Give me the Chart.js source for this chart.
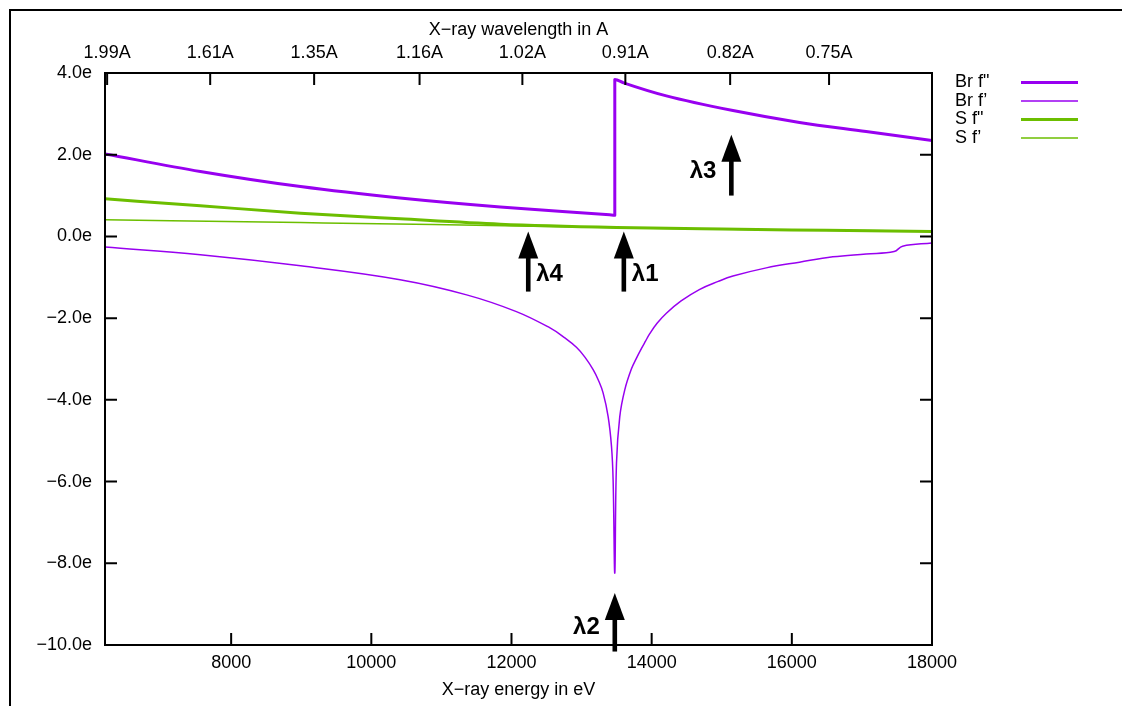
<!DOCTYPE html>
<html>
<head>
<meta charset="utf-8">
<script src="https://cdn.jsdelivr.net/npm/chart.js@4.4.0/dist/chart.umd.min.js"></script>
<style>
  html, body { margin: 0; padding: 0; background: #fff; }
  #wrap { width: 1122px; height: 706px; }
</style>
</head>
<body>
<div id="wrap"><canvas id="chart" width="1122" height="706"></canvas></div>
<script>
// anomalous scattering factors (electrons) vs X-ray energy (eV)
var brFppEnergy = [6200, 7560, 8990, 10410, 11840, 13400, 13474, 13474, 13600, 14210, 15160, 16110, 17060, 18000];
var brFppValue  = [2.02, 1.59, 1.22, 0.94, 0.72, 0.53, 0.52, 3.84, 3.76, 3.44, 3.08, 2.79, 2.57, 2.35];

var brFpEnergy = [6200, 7560, 8990, 10410, 11360, 12070, 12550, 12750, 12930, 13050, 13165, 13240, 13307, 13379, 13427, 13450, 13474,
                  13498, 13545, 13617, 13712, 13780, 13855, 13910, 13973, 14080, 14210, 14420, 14680, 14950, 15160, 15635, 16110, 16585, 17060, 17460, 17580, 18000];
var brFpValue  = [-0.26, -0.45, -0.72, -1.06, -1.43, -1.84, -2.24, -2.47, -2.72, -2.96, -3.26, -3.52, -3.83, -4.41, -5.14, -5.96, -8.24,
                  -5.55, -4.41, -3.75, -3.24, -2.99, -2.74, -2.57, -2.38, -2.12, -1.88, -1.58, -1.30, -1.10, -0.97, -0.77, -0.63, -0.50, -0.43, -0.37, -0.24, -0.16];

var sFppEnergy = [6200, 7560, 8990, 10410, 11840, 13500, 15000, 16500, 18000];
var sFppValue  = [0.92, 0.75, 0.57, 0.43, 0.30, 0.22, 0.18, 0.15, 0.12];

var sFpEnergy = [6200, 8990, 10880, 12500, 14000, 16000, 18000];
var sFpValue  = [0.41, 0.34, 0.29, 0.24, 0.20, 0.16, 0.13];

var energyTicks = [8000, 10000, 12000, 14000, 16000, 18000];
var wavelengthTicks = [1.99, 1.61, 1.35, 1.16, 1.02, 0.91, 0.82, 0.75];
var yTicks = [4, 2, 0, -2, -4, -6, -8, -10];

var seriesNames = ["Br f\"", "Br f\u2019", "S f\"", "S f\u2019"];

// wavelength markers
var arrowNames  = ["\u03bb1", "\u03bb2", "\u03bb3", "\u03bb4"];
var arrowEnergy = [13603, 13474, 15137, 12239];
var arrowTip    = [0.12, -8.73, 2.49, 0.12];
var arrowTail   = [-1.35, -10.16, 1.0, -1.35];

var PURPLE = '#9800f0';
var GREEN = '#6cbe00';
var FONT = '"Liberation Sans", Arial, Helvetica, sans-serif';

function pts(xs, ys) {
  return xs.map(function (x, i) { return { x: x, y: ys[i] }; });
}

var gnuplotDecor = {
  id: 'gnuplotDecor',
  beforeDraw: function (chart) {
    var ctx = chart.ctx;
    ctx.save();
    ctx.strokeStyle = '#000';
    ctx.lineWidth = 2;
    ctx.beginPath();
    ctx.moveTo(10, 706);
    ctx.lineTo(10, 10);
    ctx.lineTo(1122, 10);
    ctx.stroke();
    ctx.restore();
  },
  afterDraw: function (chart) {
    var ctx = chart.ctx, a = chart.chartArea, s = chart.scales;
    ctx.save();
    ctx.strokeStyle = '#000';
    ctx.lineWidth = 2;
    ctx.strokeRect(a.left, a.top, a.right - a.left, a.bottom - a.top);
    ctx.beginPath();
    s.x.ticks.forEach(function (t) {
      var px = s.x.getPixelForValue(t.value);
      ctx.moveTo(px, a.bottom); ctx.lineTo(px, a.bottom - 12);
    });
    s.x2.ticks.forEach(function (t) {
      var px = s.x2.getPixelForValue(t.value);
      ctx.moveTo(px, a.top); ctx.lineTo(px, a.top + 12);
    });
    s.y.ticks.forEach(function (t) {
      var py = s.y.getPixelForValue(t.value);
      ctx.moveTo(a.left, py); ctx.lineTo(a.left + 12, py);
      ctx.moveTo(a.right, py); ctx.lineTo(a.right - 12, py);
    });
    ctx.stroke();

    // arrows
    ctx.fillStyle = '#000';
    ctx.font = 'bold 24px ' + FONT;
    ctx.textBaseline = 'middle';
    arrowNames.forEach(function (name, i) {
      var px = s.x.getPixelForValue(arrowEnergy[i]);
      var tip = s.y.getPixelForValue(arrowTip[i]);
      var tail = s.y.getPixelForValue(arrowTail[i]);
      ctx.beginPath();
      ctx.moveTo(px, tip);
      ctx.lineTo(px - 10, tip + 27);
      ctx.lineTo(px + 10, tip + 27);
      ctx.closePath();
      ctx.fill();
      ctx.fillRect(px - 2.3, tip + 20, 4.6, tail - tip - 20);
      if (i === 1 || i === 2) {
        ctx.textAlign = 'right';
        ctx.fillText(name, px - 15, tail - 24);
      } else {
        ctx.textAlign = 'left';
        ctx.fillText(name, px + 8, tail - 17);
      }
    });

    // legend
    var colors = [PURPLE, PURPLE, GREEN, GREEN];
    var widths = [3, 1.5, 3, 1.5];
    ctx.font = '18px ' + FONT;
    ctx.textAlign = 'left';
    seriesNames.forEach(function (name, i) {
      var y = 82.5 + i * 18.5;
      ctx.fillStyle = '#000';
      ctx.fillText(name, a.right + 23, y);
      ctx.strokeStyle = colors[i];
      ctx.lineWidth = widths[i];
      ctx.beginPath();
      ctx.moveTo(1021, y);
      ctx.lineTo(1078, y);
      ctx.stroke();
    });
    ctx.restore();
  }
};

Chart.defaults.font.family = FONT;
Chart.defaults.font.size = 18;
Chart.defaults.color = '#000';

new Chart(document.getElementById('chart'), {
  type: 'line',
  data: {
    datasets: [
      { label: seriesNames[0], data: pts(brFppEnergy, brFppValue), borderColor: PURPLE, borderWidth: 3 },
      { label: seriesNames[1], data: pts(brFpEnergy, brFpValue), borderColor: PURPLE, borderWidth: 1.5,
        cubicInterpolationMode: 'default', tension: 0.4 },
      { label: seriesNames[2], data: pts(sFppEnergy, sFppValue), borderColor: GREEN, borderWidth: 3 },
      { label: seriesNames[3], data: pts(sFpEnergy, sFpValue), borderColor: GREEN, borderWidth: 1.5 }
    ]
  },
  options: {
    responsive: false,
    animation: false,
    devicePixelRatio: 1,
    layout: { padding: { left: 0, right: 190, top: 0, bottom: 0 } },
    elements: {
      point: { radius: 0 },
      line: { cubicInterpolationMode: 'monotone', borderJoinStyle: 'round' }
    },
    plugins: { legend: { display: false }, tooltip: { enabled: false } },
    scales: {
      x: {
        type: 'linear', position: 'bottom', min: 6200, max: 18000,
        grid: { display: false, drawTicks: false },
        border: { display: false },
        afterBuildTicks: function (s) { s.ticks = energyTicks.map(function (v) { return { value: v }; }); },
        afterFit: function (s) { s.height = 61; },
        ticks: { padding: 7, autoSkip: false, maxRotation: 0, callback: function (v) { return String(v); } },
        title: { display: true, text: 'X\u2212ray energy in eV', padding: { top: 0, bottom: 5 } }
      },
      x2: {
        type: 'linear', position: 'top', min: 6200, max: 18000,
        grid: { display: false, drawTicks: false },
        border: { display: false },
        afterBuildTicks: function (s) { s.ticks = wavelengthTicks.map(function (w) { return { value: 12398.4 / w }; }); },
        afterFit: function (s) { s.height = 73; },
        ticks: { padding: 9, autoSkip: false, maxRotation: 0,
          callback: function (v, i) { return wavelengthTicks[i].toFixed(2) + 'A'; } },
        title: { display: true, text: 'X\u2212ray wavelength in A', padding: { top: 19, bottom: 0 } }
      },
      y: {
        type: 'linear', position: 'left', min: -10, max: 4,
        grid: { display: false, drawTicks: false },
        border: { display: false },
        afterBuildTicks: function (s) { s.ticks = yTicks.map(function (v) { return { value: v }; }); },
        afterFit: function (s) { s.width = 105; },
        ticks: { padding: 13, autoSkip: false,
          callback: function (v) { return (v < 0 ? '\u2212' : '') + Math.abs(v).toFixed(1) + 'e'; } }
      }
    }
  },
  plugins: [gnuplotDecor]
});
</script>
</body>
</html>
